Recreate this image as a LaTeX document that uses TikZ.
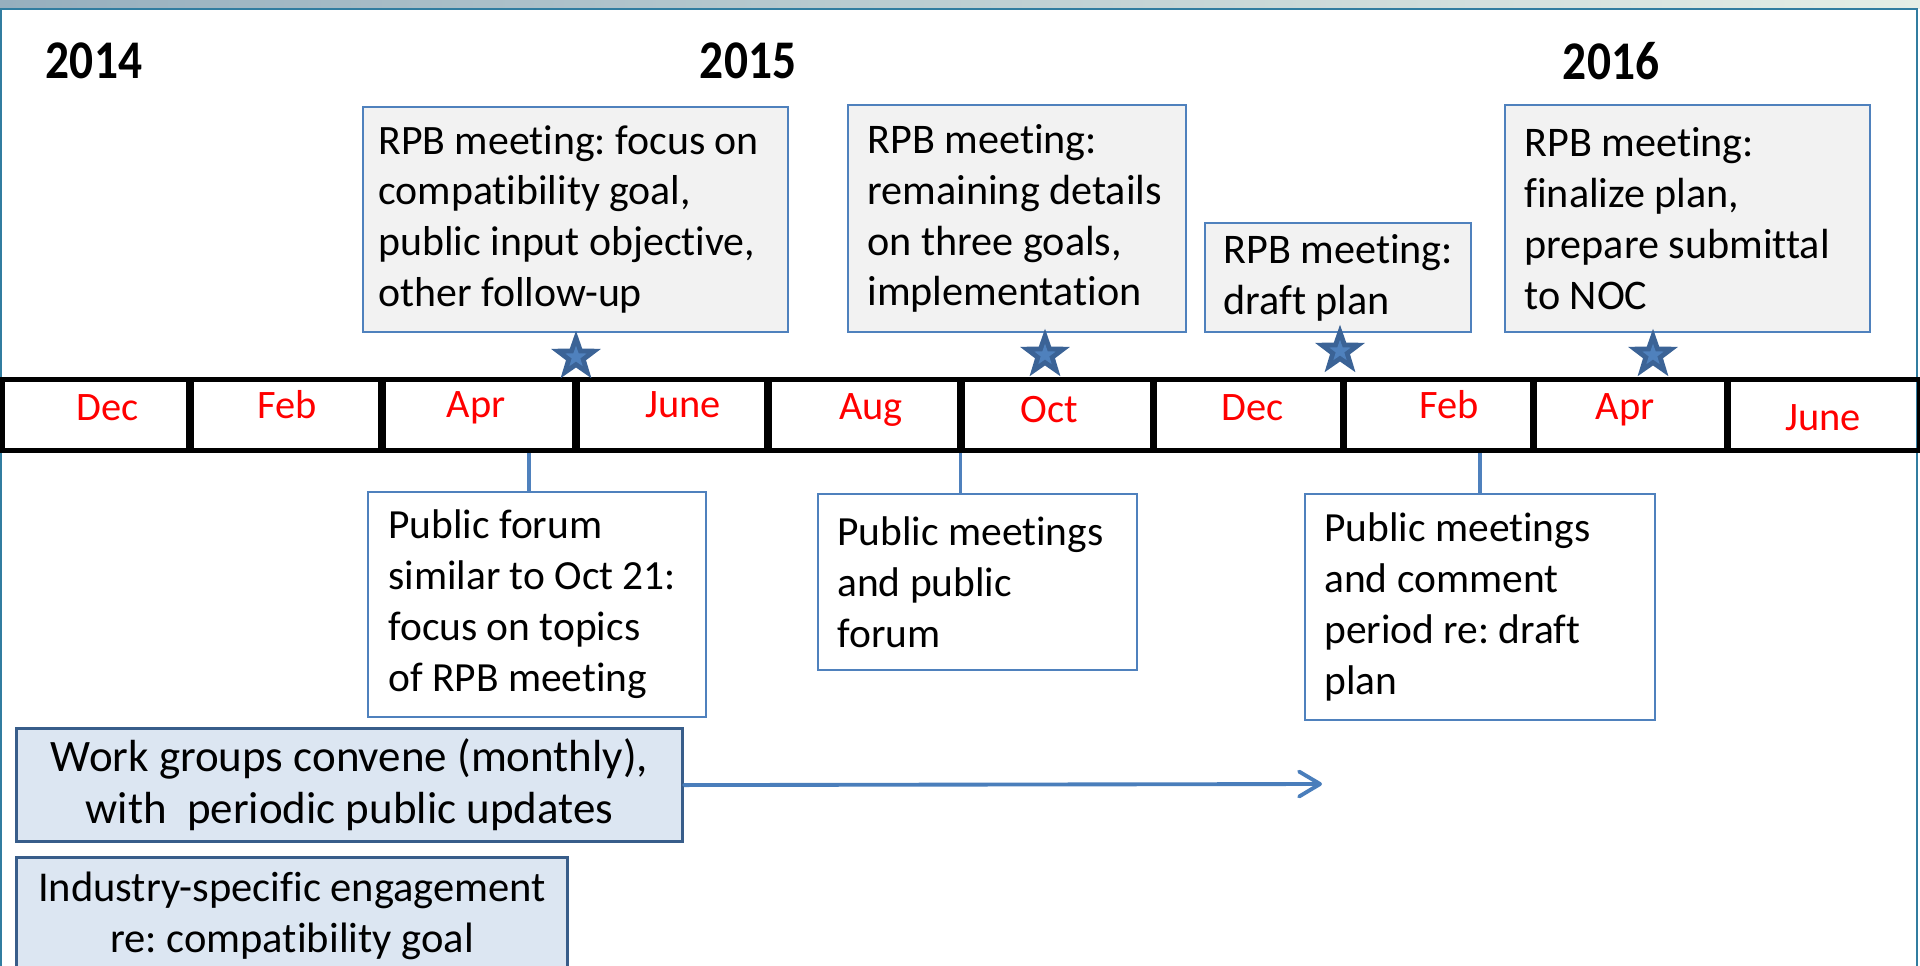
\documentclass[tikz,border=0pt]{standalone}
\usepackage{fontspec}
\setmainfont{Carlito}[Ligatures=NoCommon]
\usetikzlibrary{shapes.geometric,arrows.meta}
\frenchspacing

\definecolor{boxblue}{RGB}{79,129,189}
\definecolor{boxgray}{RGB}{242,242,242}
\definecolor{bandfill}{RGB}{220,230,242}
\definecolor{bandline}{RGB}{56,93,138}
\definecolor{stardark}{RGB}{59,99,150}
\definecolor{arrowblue}{RGB}{74,126,187}
\definecolor{framecol}{RGB}{49,125,160}
\definecolor{stripleft}{RGB}{150,175,190}
\definecolor{stripmid}{RGB}{95,140,170}
\definecolor{stripright}{RGB}{228,238,230}

\tikzset{
    rpbbox/.style={draw=boxblue, line width=1.1pt, fill=boxgray, anchor=north west, inner sep=0pt},
    publicbox/.style={rpbbox, fill=white},
    boxtext/.style={anchor=west, inner sep=0pt, align=left, font=\fontsize{24}{29}\selectfont},
    publictext/.style={boxtext, font=\fontsize{23.6}{29}\selectfont},
    bandbox/.style={draw=bandline, line width=1.8pt, fill=bandfill, anchor=north west,
        inner sep=0pt, align=center},
    monthlabel/.style={text=red, font=\fontsize{23}{28}\selectfont},
    yearlabel/.style={font=\bfseries\fontsize{31}{31}\selectfont},
    meetstar/.style={star, star points=5, star point ratio=2.5, inner sep=0pt}
}

\begin{document}
\begin{tikzpicture}[x=0.02cm, y=-0.02cm]
    % Picture size (1920 x 966 px)
    \useasboundingbox (0,0) rectangle (1920,966);
    \clip (0,0) rectangle (1920,966);

    % Background strip and frame
    \shade[left color=stripleft, middle color=stripmid, right color=stripright] (0,0) rectangle (1920,9);
    \draw[framecol, line width=0.8pt] (1,990) -- (1,9) -- (1917,9) -- (1917,990);

    % Years
    \node[yearlabel] (y2014) at (94,61) {\scalebox{0.87}[1]{2014}};
    \node[yearlabel] (y2015) at (748,61) {\scalebox{0.87}[1]{2015}};
    \node[yearlabel] (y2016) at (1611,61) {\scalebox{0.87}[1]{2016}};

    % Timeline bar
    \node[draw, line width=2.6pt, minimum width=38.34cm, minimum height=1.42cm,
        inner sep=0pt, anchor=north west] (bar) at (0,377) {};
    \foreach \x in {190,382,576,768,961,1153,1343,1533,1727} {
        \draw[line width=4pt] (\x,377) -- (\x,448);
    }

    % Months
    \foreach \x/\y/\m [count=\i] in {108/408/Dec, 287/405/Feb, 476/408/Apr, 683/405/June,
        871/410/Aug, 1049/410/Oct, 1253/408/Dec, 1449/405/Feb, 1625/410/Apr, 1823/418/June} {
        \node[monthlabel] (m\i) at (\x,\y) {\m};
    }

    % RPB meetings
    \node[rpbbox, minimum width=8.5cm, minimum height=4.5cm] (rpb1) at (362,106) {};
    \node[boxtext, font=\fontsize{23.8}{29}\selectfont] (rpb1text) at ([xshift=0.32cm]rpb1.west)
        {RPB meeting: focus on\\compatibility goal,\\public input objective,\\other follow-up};
    \node[rpbbox, minimum width=6.76cm, minimum height=4.54cm] (rpb2) at (847,104) {};
    \node[boxtext] (rpb2text) at ([xshift=0.4cm]rpb2.west)
        {RPB meeting:\\remaining details\\on three goals,\\implementation};
    \node[rpbbox, minimum width=5.32cm, minimum height=2.18cm] (rpb3) at (1204,222) {};
    \node[boxtext] (rpb3text) at ([xshift=0.38cm]rpb3.west)
        {RPB meeting:\\draft plan};
    \node[rpbbox, minimum width=7.3cm, minimum height=4.54cm] (rpb4) at (1504,104) {};
    \node[boxtext] (rpb4text) at ([xshift=0.4cm]rpb4.west)
        {RPB meeting:\\finalize plan,\\prepare submittal\\to NOC};

    % Stars
    \foreach \x/\y [count=\i] in {576/357, 1045/355, 1340/351, 1653/355} {
        \node[meetstar, fill=stardark, minimum size=1.05cm] (star\i) at (\x,\y) {};
        \node[meetstar, fill=boxblue, minimum size=0.45cm] at (star\i) {};
    }

    % Public events
    \node[publicbox, minimum width=6.76cm, minimum height=4.5cm] (forum1) at (367,491) {};
    \node[publictext] (forum1text) at ([xshift=0.42cm]forum1.west)
        {Public forum\\similar to Oct 21:\\focus on topics\\of RPB meeting};
    \node[publicbox, minimum width=6.38cm, minimum height=3.52cm] (forum2) at (817,493) {};
    \node[publictext] (forum2text) at ([xshift=0.4cm]forum2.west)
        {Public meetings\\and public\\forum};
    \node[publicbox, minimum width=7cm, minimum height=4.52cm] (forum3) at (1304,493) {};
    \node[publictext] (forum3text) at ([xshift=0.4cm]forum3.west)
        {Public meetings\\and comment\\period re: draft\\plan};
    \foreach \f/\dx in {forum1/-8, forum2/-17, forum3/0} {
        \draw[boxblue, line width=2pt] ([xshift=\dx*0.02cm]\f.north) -- ([xshift=\dx*0.02cm]\f.north |- bar.south);
    }

    % Ongoing work
    \node[bandbox, minimum width=13.32cm, minimum height=2.26cm,
        font=\fontsize{25.6}{29.5}\selectfont] (workgroups) at (15,727)
        {Work groups convene (monthly),\\with\ \ periodic public updates};
    \node[bandbox, minimum width=11.02cm, minimum height=2.32cm,
        font=\fontsize{24.2}{29}\selectfont] (industry) at (15,856)
        {Industry-specific engagement\\re: compatibility goal};
    \coordinate (wgend) at (1322,784);
    \draw[arrowblue, line width=2.2pt, line cap=round,
        -{Straight Barb[length=0.42cm, width=0.5cm, line cap=round, line join=round]}]
        (workgroups.east) -- (wgend);
\end{tikzpicture}
\end{document}
